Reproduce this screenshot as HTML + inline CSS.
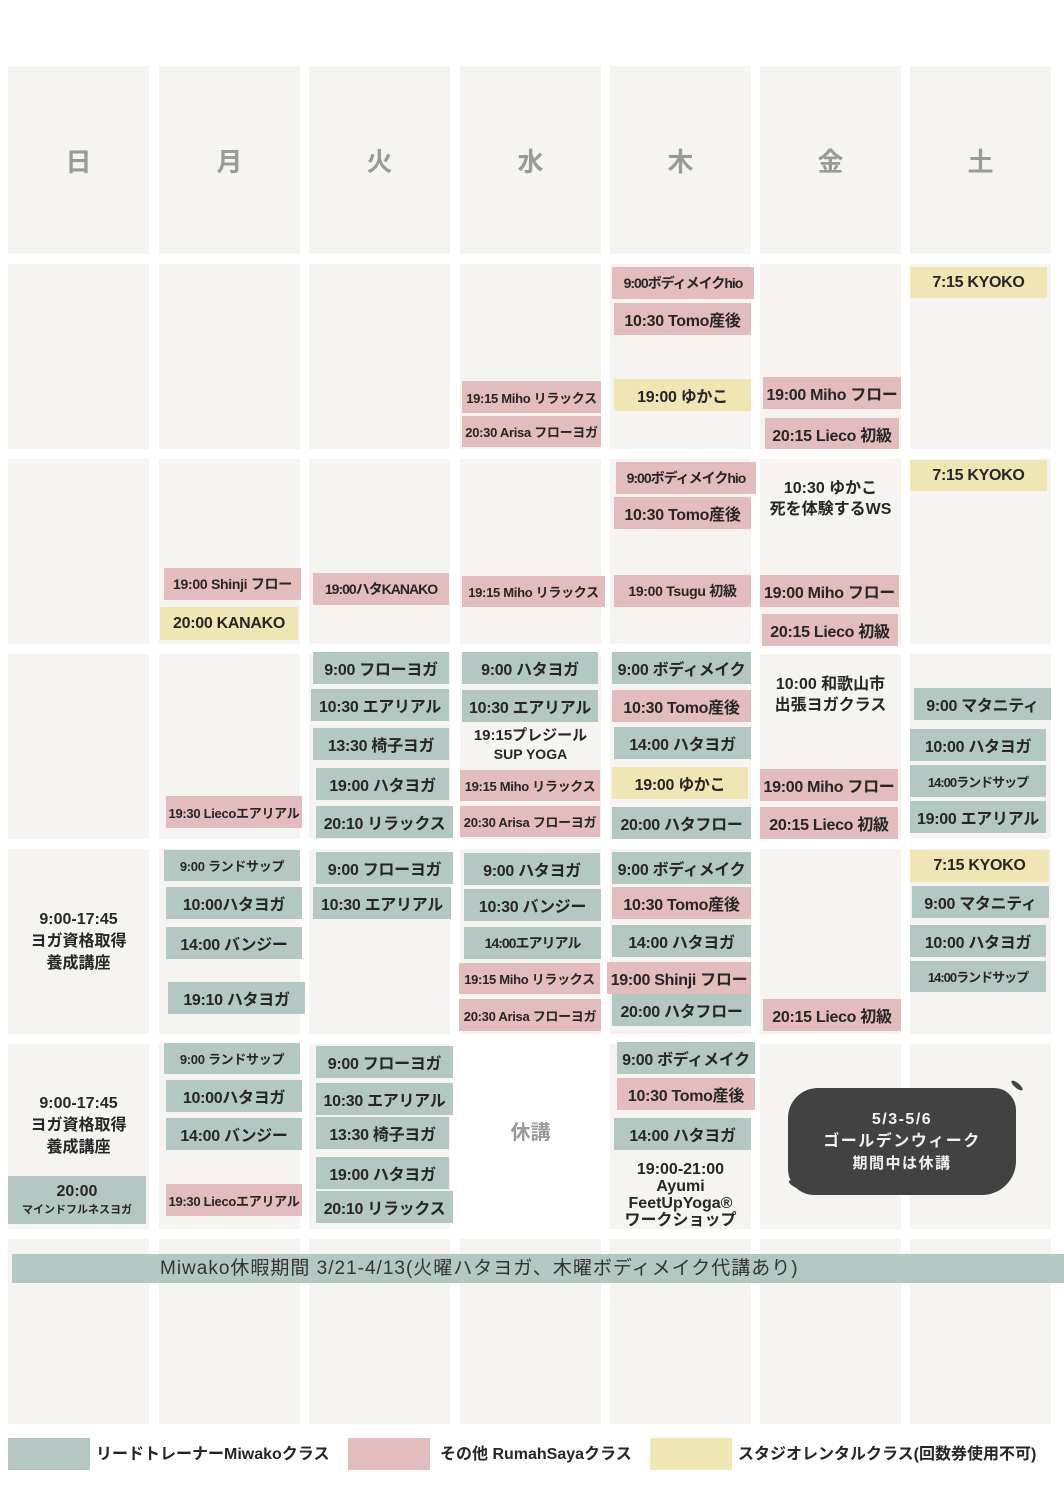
<!DOCTYPE html>
<html><head><meta charset="utf-8"><style>
body{margin:0;width:1064px;height:1488px;background:#fff;position:relative;overflow:hidden;font-family:"Liberation Sans","Noto Sans CJK JP",sans-serif}
.c{position:absolute;background:#f5f4f1;width:141px;height:185px}
.h{height:188px;display:flex;align-items:center;justify-content:center;font-size:26px;color:#9a9a9a;font-weight:bold}
.b{position:absolute;display:flex;align-items:center;justify-content:center;font-weight:bold;font-size:16px;white-space:nowrap;color:#262626;overflow:visible;letter-spacing:-0.3px}
.t{background:#b4c8c3}.p{background:#e3bcbd}.y{background:#efe6b4}
.s{font-size:13px}.m{font-size:14px}
.x{position:absolute;text-align:center;font-weight:bold;font-size:16px;color:#262626;line-height:21px}
</style></head><body>
<!-- header -->
<div class="c h" style="left:8px;top:66px">日</div>
<div class="c h" style="left:159px;top:66px">月</div>
<div class="c h" style="left:309px;top:66px">火</div>
<div class="c h" style="left:460px;top:66px">水</div>
<div class="c h" style="left:610px;top:66px">木</div>
<div class="c h" style="left:760px;top:66px">金</div>
<div class="c h" style="left:910px;top:66px">土</div>
<!-- rows -->
<div class="c" style="left:8px;top:264px"></div><div class="c" style="left:159px;top:264px"></div><div class="c" style="left:309px;top:264px"></div><div class="c" style="left:460px;top:264px"></div><div class="c" style="left:610px;top:264px"></div><div class="c" style="left:760px;top:264px"></div><div class="c" style="left:910px;top:264px"></div>
<div class="c" style="left:8px;top:459px"></div><div class="c" style="left:159px;top:459px"></div><div class="c" style="left:309px;top:459px"></div><div class="c" style="left:460px;top:459px"></div><div class="c" style="left:610px;top:459px"></div><div class="c" style="left:760px;top:459px"></div><div class="c" style="left:910px;top:459px"></div>
<div class="c" style="left:8px;top:654px"></div><div class="c" style="left:159px;top:654px"></div><div class="c" style="left:309px;top:654px"></div><div class="c" style="left:460px;top:654px"></div><div class="c" style="left:610px;top:654px"></div><div class="c" style="left:760px;top:654px"></div><div class="c" style="left:910px;top:654px"></div>
<div class="c" style="left:8px;top:849px"></div><div class="c" style="left:159px;top:849px"></div><div class="c" style="left:309px;top:849px"></div><div class="c" style="left:460px;top:849px"></div><div class="c" style="left:610px;top:849px"></div><div class="c" style="left:760px;top:849px"></div><div class="c" style="left:910px;top:849px"></div>
<div class="c" style="left:8px;top:1044px"></div><div class="c" style="left:159px;top:1044px"></div><div class="c" style="left:309px;top:1044px"></div><div class="c" style="left:610px;top:1044px"></div><div class="c" style="left:760px;top:1044px"></div><div class="c" style="left:910px;top:1044px"></div>
<div class="c" style="left:8px;top:1239px"></div><div class="c" style="left:159px;top:1239px"></div><div class="c" style="left:309px;top:1239px"></div><div class="c" style="left:460px;top:1239px"></div><div class="c" style="left:610px;top:1239px"></div><div class="c" style="left:760px;top:1239px"></div><div class="c" style="left:910px;top:1239px"></div>

<!-- row1 -->
<div class="b p m" style="left:612px;top:267px;width:142px;height:32px;letter-spacing:-1px">9:00ボディメイクhio</div>
<div class="b p" style="left:614px;top:303px;width:137px;height:32px">10:30 Tomo産後</div>
<div class="b y" style="left:614px;top:379px;width:137px;height:32px">19:00 ゆかこ</div>
<div class="b p s" style="left:462px;top:381px;width:139px;height:32px">19:15 Miho リラックス</div>
<div class="b p s" style="left:462px;top:416px;width:139px;height:31px">20:30 Arisa フローヨガ</div>
<div class="b p" style="left:763px;top:377px;width:138px;height:32px">19:00 Miho フロー</div>
<div class="b p" style="left:765px;top:418px;width:134px;height:31px">20:15 Lieco 初級</div>
<div class="b y" style="left:910px;top:267px;width:137px;height:31px">7:15 KYOKO</div>
<!-- row2 -->
<div class="b p m" style="left:164px;top:568px;width:137px;height:32px">19:00 Shinji フロー</div>
<div class="b y" style="left:160px;top:607px;width:138px;height:33px">20:00 KANAKO</div>
<div class="b p m" style="left:313px;top:573px;width:136px;height:32px;letter-spacing:-1px">19:00ハタKANAKO</div>
<div class="b p s" style="left:462px;top:576px;width:143px;height:31px">19:15 Miho リラックス</div>
<div class="b p m" style="left:616px;top:462px;width:140px;height:32px;letter-spacing:-1px">9:00ボディメイクhio</div>
<div class="b p" style="left:614px;top:497px;width:137px;height:32px">10:30 Tomo産後</div>
<div class="b p m" style="left:614px;top:575px;width:137px;height:32px">19:00 Tsugu 初級</div>
<div class="x" style="left:760px;top:478px;width:141px">10:30 ゆかこ<br>死を体験するWS</div>
<div class="b p" style="left:760px;top:575px;width:139px;height:32px">19:00 Miho フロー</div>
<div class="b p" style="left:762px;top:614px;width:136px;height:32px">20:15 Lieco 初級</div>
<div class="b y" style="left:910px;top:460px;width:137px;height:31px">7:15 KYOKO</div>
<!-- row3 -->
<div class="b p s" style="left:166px;top:796px;width:136px;height:32px">19:30 Liecoエアリアル</div>
<div class="b t" style="left:313px;top:652px;width:136px;height:32px">9:00 フローヨガ</div>
<div class="b t" style="left:311px;top:689px;width:138px;height:32px">10:30 エアリアル</div>
<div class="b t" style="left:313px;top:728px;width:136px;height:32px">13:30 椅子ヨガ</div>
<div class="b t" style="left:316px;top:768px;width:133px;height:32px">19:00 ハタヨガ</div>
<div class="b t" style="left:316px;top:806px;width:137px;height:32px">20:10 リラックス</div>
<div class="b t" style="left:462px;top:652px;width:136px;height:32px">9:00 ハタヨガ</div>
<div class="b t" style="left:462px;top:690px;width:136px;height:32px">10:30 エアリアル</div>
<div class="x" style="left:460px;top:727px;width:141px;line-height:18px;font-size:15px">19:15プレジール<br><span style="font-size:14px">SUP YOGA</span></div>
<div class="b p s" style="left:460px;top:770px;width:140px;height:31px">19:15 Miho リラックス</div>
<div class="b p s" style="left:460px;top:806px;width:140px;height:31px">20:30 Arisa フローヨガ</div>
<div class="b t" style="left:612px;top:652px;width:139px;height:32px">9:00 ボディメイク</div>
<div class="b p" style="left:612px;top:690px;width:139px;height:32px">10:30 Tomo産後</div>
<div class="b t" style="left:614px;top:727px;width:137px;height:32px">14:00 ハタヨガ</div>
<div class="b y" style="left:612px;top:767px;width:136px;height:32px">19:00 ゆかこ</div>
<div class="b t" style="left:612px;top:807px;width:139px;height:32px">20:00 ハタフロー</div>
<div class="x" style="left:760px;top:674px;width:141px">10:00 和歌山市<br>出張ヨガクラス</div>
<div class="b p" style="left:760px;top:769px;width:138px;height:32px">19:00 Miho フロー</div>
<div class="b p" style="left:760px;top:807px;width:138px;height:32px">20:15 Lieco 初級</div>
<div class="b t" style="left:914px;top:688px;width:137px;height:32px">9:00 マタニティ</div>
<div class="b t" style="left:910px;top:729px;width:136px;height:32px">10:00 ハタヨガ</div>
<div class="b t s" style="left:910px;top:765px;width:136px;height:32px;letter-spacing:-1px">14:00ランドサップ</div>
<div class="b t" style="left:910px;top:801px;width:136px;height:32px">19:00 エアリアル</div>
<!-- row4 -->
<div class="x" style="left:8px;top:909px;width:141px;line-height:22px">9:00-17:45<br>ヨガ資格取得<br>養成講座</div>
<div class="b t s" style="left:164px;top:850px;width:136px;height:31px">9:00 ランドサップ</div>
<div class="b t" style="left:166px;top:887px;width:136px;height:32px">10:00ハタヨガ</div>
<div class="b t" style="left:166px;top:927px;width:136px;height:32px">14:00 バンジー</div>
<div class="b t" style="left:168px;top:982px;width:137px;height:32px">19:10 ハタヨガ</div>
<div class="b t" style="left:316px;top:852px;width:137px;height:32px">9:00 フローヨガ</div>
<div class="b t" style="left:313px;top:887px;width:138px;height:32px">10:30 エアリアル</div>
<div class="b t" style="left:464px;top:853px;width:136px;height:32px">9:00 ハタヨガ</div>
<div class="b t" style="left:464px;top:889px;width:137px;height:32px">10:30 バンジー</div>
<div class="b t m" style="left:464px;top:927px;width:137px;height:32px;letter-spacing:-1px">14:00エアリアル</div>
<div class="b p s" style="left:459px;top:963px;width:141px;height:31px">19:15 Miho リラックス</div>
<div class="b p s" style="left:459px;top:999px;width:142px;height:32px">20:30 Arisa フローヨガ</div>
<div class="b t" style="left:612px;top:852px;width:139px;height:32px">9:00 ボディメイク</div>
<div class="b p" style="left:612px;top:887px;width:139px;height:32px">10:30 Tomo産後</div>
<div class="b t" style="left:612px;top:925px;width:139px;height:32px">14:00 ハタヨガ</div>
<div class="b p" style="left:607px;top:962px;width:144px;height:32px">19:00 Shinji フロー</div>
<div class="b t" style="left:612px;top:994px;width:139px;height:32px">20:00 ハタフロー</div>
<div class="b p" style="left:763px;top:999px;width:138px;height:32px">20:15 Lieco 初級</div>
<div class="b y" style="left:910px;top:850px;width:139px;height:32px">7:15 KYOKO</div>
<div class="b t" style="left:912px;top:886px;width:137px;height:32px">9:00 マタニティ</div>
<div class="b t" style="left:910px;top:925px;width:136px;height:32px">10:00 ハタヨガ</div>
<div class="b t s" style="left:910px;top:961px;width:136px;height:31px;letter-spacing:-1px">14:00ランドサップ</div>
<!-- row5 -->
<div class="x" style="left:8px;top:1093px;width:141px;line-height:22px">9:00-17:45<br>ヨガ資格取得<br>養成講座</div>
<div class="t" style="position:absolute;left:8px;top:1176px;width:138px;height:48px;text-align:center;font-weight:bold;color:#262626"><div style="font-size:16px;margin-top:6px;line-height:20px">20:00</div><div style="font-size:11px;line-height:16px">マインドフルネスヨガ</div></div>
<div class="b t s" style="left:164px;top:1043px;width:136px;height:31px">9:00 ランドサップ</div>
<div class="b t" style="left:166px;top:1080px;width:136px;height:32px">10:00ハタヨガ</div>
<div class="b t" style="left:166px;top:1118px;width:136px;height:32px">14:00 バンジー</div>
<div class="b p s" style="left:166px;top:1184px;width:136px;height:32px">19:30 Liecoエアリアル</div>
<div class="b t" style="left:316px;top:1046px;width:137px;height:32px">9:00 フローヨガ</div>
<div class="b t" style="left:316px;top:1083px;width:137px;height:32px">10:30 エアリアル</div>
<div class="b t" style="left:316px;top:1117px;width:133px;height:32px">13:30 椅子ヨガ</div>
<div class="b t" style="left:316px;top:1157px;width:133px;height:32px">19:00 ハタヨガ</div>
<div class="b t" style="left:316px;top:1191px;width:137px;height:32px">20:10 リラックス</div>
<div class="x" style="left:460px;top:1123px;width:141px;color:#9a9a9a;font-size:20px">休講</div>
<div class="b t" style="left:617px;top:1042px;width:138px;height:32px">9:00 ボディメイク</div>
<div class="b p" style="left:617px;top:1078px;width:138px;height:32px">10:30 Tomo産後</div>
<div class="b t" style="left:614px;top:1118px;width:137px;height:32px">14:00 ハタヨガ</div>
<div class="x" style="left:610px;top:1161px;width:141px;line-height:17px">19:00-21:00<br>Ayumi<br>FeetUpYoga®<br>ワークショップ</div>
<div style="position:absolute;left:788px;top:1088px;width:228px;height:107px;background:#424242;border-radius:30px 22px 34px 26px;color:#f2f2f2;font-weight:bold;text-align:center;font-size:16px;line-height:22px;letter-spacing:1.5px;display:flex;flex-direction:column;justify-content:center"><div>5/3-5/6</div><div>ゴールデンウィーク</div><div style="font-size:15px">期間中は休講</div></div>
<div style="position:absolute;left:1010px;top:1083px;width:14px;height:5px;background:#424242;border-radius:50%;transform:rotate(40deg)"></div>
<div style="position:absolute;left:788px;top:1182px;width:14px;height:5px;background:#424242;border-radius:50%;transform:rotate(30deg)"></div>
<!-- row6 banner -->
<div style="position:absolute;left:12px;top:1254px;width:1052px;height:29px;background:#b4c8c3;color:#333;font-size:19px;line-height:29px;padding-left:148px;box-sizing:border-box;letter-spacing:1px;white-space:nowrap">Miwako休暇期間 3/21-4/13(火曜ハタヨガ、木曜ボディメイク代講あり)</div>
<!-- legend -->
<div class="t" style="position:absolute;left:8px;top:1438px;width:82px;height:32px"></div>
<div class="x" style="left:96px;top:1444px;text-align:left;white-space:nowrap">リードトレーナーMiwakoクラス</div>
<div class="p" style="position:absolute;left:348px;top:1438px;width:82px;height:32px"></div>
<div class="x" style="left:440px;top:1444px;text-align:left;white-space:nowrap">その他 RumahSayaクラス</div>
<div class="y" style="position:absolute;left:650px;top:1438px;width:82px;height:32px"></div>
<div class="x" style="left:738px;top:1444px;text-align:left;white-space:nowrap">スタジオレンタルクラス(回数券使用不可)</div>
</body></html>
